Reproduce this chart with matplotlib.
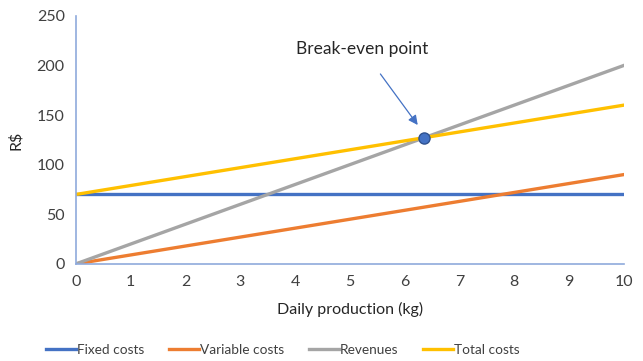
import matplotlib.pyplot as plt

plt.rcParams['font.family'] = ['Lato', 'DejaVu Sans']

# daily production (kg) and the cost / revenue lines in R$
production = [0, 1, 2, 3, 4, 5, 6, 7, 8, 9, 10]
fixed_costs = [70, 70, 70, 70, 70, 70, 70, 70, 70, 70, 70]
variable_costs = [0, 9, 18, 27, 36, 45, 54, 63, 72, 81, 90]
revenues = [0, 20, 40, 60, 80, 100, 120, 140, 160, 180, 200]
total_costs = [70, 79, 88, 97, 106, 115, 124, 133, 142, 151, 160]

# where revenues meet total costs
break_even_x = 6.36
break_even_y = 127.3

fig = plt.figure(figsize=(6.43, 3.61), dpi=100)
ax = fig.add_axes([0.118, 0.269, 0.852, 0.687])

ax.plot(production, fixed_costs, color='#4472C4', lw=2.4, label='Fixed costs')
ax.plot(production, variable_costs, color='#ED7D31', lw=2.4, label='Variable costs')
ax.plot(production, revenues, color='#A5A5A5', lw=2.4, label='Revenues')
ax.plot(production, total_costs, color='#FFC000', lw=2.4, label='Total costs')

ax.plot([break_even_x], [break_even_y], 'o', ms=8, color='#4472C4',
        mec='#2F528F', mew=1, zorder=5)

ax.annotate('Break-even point', xy=(6.24, 140), xytext=(5.22, 217),
            ha='center', va='center', fontsize=12.5, color='#262626',
            arrowprops=dict(arrowstyle='-|>', color='#4472C4', lw=0.9,
                            shrinkA=13, shrinkB=0, mutation_scale=14))

ax.set_xlim(0, 10)
ax.set_ylim(0, 250)
ax.set_xticks(range(0, 11))
ax.set_yticks(range(0, 251, 50))
ax.margins(0)

for side in ['top', 'right']:
    ax.spines[side].set_visible(False)
for side in ['left', 'bottom']:
    ax.spines[side].set_color('#8FAADC')
    ax.spines[side].set_linewidth(1.2)
ax.tick_params(length=0, labelsize=11.5, colors='#404040', pad=8)

ax.set_xlabel('Daily production (kg)', fontsize=11.5, color='#262626', labelpad=9)
ax.set_ylabel('R$', fontsize=11.5, color='#262626', labelpad=10)

fig.legend(loc='center', bbox_to_anchor=(0.44, 0.03), ncol=4, frameon=False,
           fontsize=9.8, handlelength=2.2, columnspacing=1.8, handletextpad=0.1,
           labelcolor='#404040')

fig.savefig('out.png', dpi=100)
